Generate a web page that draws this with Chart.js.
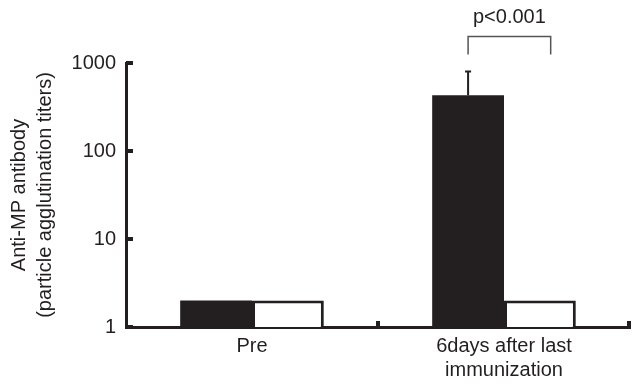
<!DOCTYPE html>
<html>
<head>
<meta charset="utf-8">
<script src="https://cdn.jsdelivr.net/npm/chart.js@4/dist/chart.umd.min.js"></script>
<style>
  html, body { margin: 0; padding: 0; background: #fff; }
  #wrap { width: 632px; height: 384px; }
</style>
</head>
<body>
<div id="wrap"><canvas id="titerChart" width="632" height="384"></canvas></div>
<script>
// Data
const categories = ['Pre', ['6days after last', 'immunization']];
const immunizedValues = [2, 430];
const controlValues = [2, 2];
const immunizedErrorTop = [null, 800];
const yTickValues = [1, 10, 100, 1000];
const pLabel = 'p<0.001';

const ink = '#231f20';
const fontFamily = '"Liberation Sans", Arial, sans-serif';

// Error bars, inward ticks and the significance bracket
const annotations = {
    id: 'annotations',
    afterDraw(chart) {
        const ctx = chart.ctx;
        const x = chart.scales.x;
        const y = chart.scales.y;
        const area = chart.chartArea;
        const blackMeta = chart.getDatasetMeta(0);
        const whiteMeta = chart.getDatasetMeta(1);
        ctx.save();

        // major ticks on the inside of the y axis
        ctx.fillStyle = ink;
        yTickValues.forEach(v => {
            const py = y.getPixelForValue(v);
            ctx.fillRect(area.left, py - 2, 7, 4);
        });

        // small ticks on the x axis at category boundaries
        const bounds = [(x.getPixelForValue(0) + x.getPixelForValue(1)) / 2, area.right - 1];
        bounds.forEach(px => {
            ctx.fillRect(px - 2, area.bottom - 6, 4, 6);
        });

        // error bars
        ctx.strokeStyle = ink;
        ctx.lineWidth = 2;
        immunizedErrorTop.forEach((top, i) => {
            if (top == null) return;
            const bar = blackMeta.data[i];
            const pyTop = y.getPixelForValue(top);
            ctx.beginPath();
            ctx.moveTo(bar.x, bar.y);
            ctx.lineTo(bar.x, pyTop);
            ctx.moveTo(bar.x - 3, pyTop);
            ctx.lineTo(bar.x + 3, pyTop);
            ctx.stroke();
        });

        // significance bracket over the second group
        const b0 = blackMeta.data[1];
        const b1 = whiteMeta.data[1];
        const left = b0.x;
        const right = b1.x + b1.width * 0.15;
        const legY = y.getPixelForValue(1250);
        const topY = y.getPixelForValue(2000);
        ctx.strokeStyle = '#555';
        ctx.lineWidth = 1.5;
        ctx.beginPath();
        ctx.moveTo(left, legY);
        ctx.lineTo(left, topY);
        ctx.lineTo(right, topY);
        ctx.lineTo(right, legY);
        ctx.stroke();

        ctx.fillStyle = ink;
        ctx.font = '20px ' + fontFamily;
        ctx.textAlign = 'center';
        ctx.textBaseline = 'alphabetic';
        ctx.fillText(pLabel, (left + right) / 2, topY - 14);
        ctx.restore();
    }
};

new Chart(document.getElementById('titerChart').getContext('2d'), {
    type: 'bar',
    data: {
        labels: categories,
        datasets: [
            {
                label: 'Immunized',
                data: immunizedValues,
                backgroundColor: ink,
                borderColor: ink,
                borderWidth: 0,
                categoryPercentage: 0.57,
                barPercentage: 1
            },
            {
                label: 'Control',
                data: controlValues,
                backgroundColor: '#ffffff',
                borderColor: ink,
                borderWidth: 3,
                borderSkipped: 'bottom',
                categoryPercentage: 0.57,
                barPercentage: 1
            }
        ]
    },
    options: {
        responsive: false,
        animation: false,
        events: [],
        layout: { padding: { top: 63, right: 2, left: 0, bottom: 0 } },
        plugins: {
            legend: { display: false },
            tooltip: { enabled: false }
        },
        scales: {
            x: {
                z: 1,
                grid: { display: false, drawTicks: false },
                border: { display: true, width: 3, color: ink },
                ticks: {
                    color: ink,
                    padding: 7,
                    font: { family: fontFamily, size: 20, lineHeight: 1.2 },
                    maxRotation: 0
                },
                afterFit(scale) { scale.height = 57; }
            },
            y: {
                type: 'logarithmic',
                min: 1,
                max: 1000,
                z: 1,
                grid: { display: false, drawTicks: false },
                border: { display: true, width: 3, color: ink },
                afterBuildTicks(scale) {
                    scale.ticks = yTickValues.map(v => ({ value: v }));
                },
                ticks: {
                    color: ink,
                    padding: 10,
                    font: { family: fontFamily, size: 20 },
                    callback: value => String(value)
                },
                title: {
                    display: true,
                    text: ['Anti-MP antibody', '(particle agglutination titers)'],
                    color: ink,
                    font: { family: fontFamily, size: 20, lineHeight: 1.3 },
                    padding: { top: 6, bottom: 0 }
                },
                afterFit(scale) { scale.width = 126; }
            }
        }
    },
    plugins: [annotations]
});
</script>
</body>
</html>
